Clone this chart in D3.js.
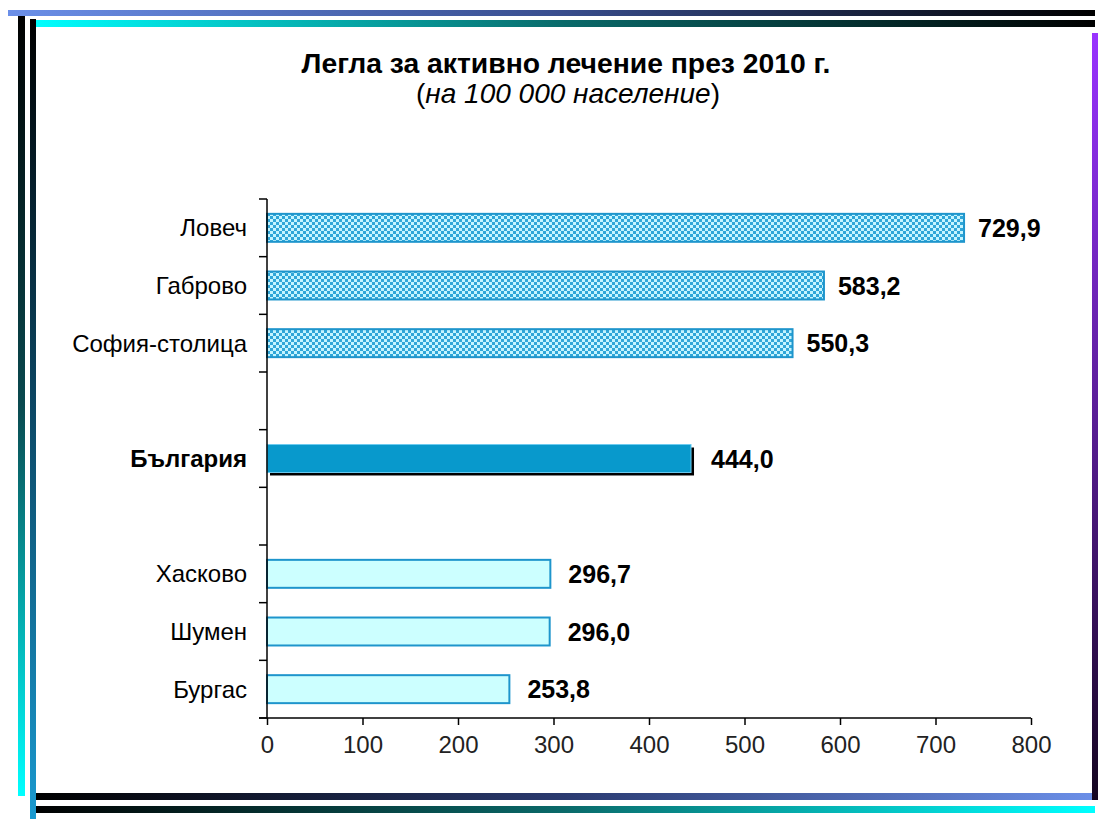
<!DOCTYPE html>
<html><head><meta charset="utf-8">
<script src="https://cdn.jsdelivr.net/npm/d3@7"></script>
<style>html,body{margin:0;padding:0;background:#fff;}svg{display:block;}</style>
</head><body>
<script>
const categories = ["Ловеч","Габрово","София-столица","gap1","България","gap2","Хасково","Шумен","Бургас"];
const labels = ["Ловеч","Габрово","София-столица","","България","","Хасково","Шумен","Бургас"];
const values = [729.9,583.2,550.3,null,444.0,null,296.7,296.0,253.8];
const groups = ["high","high","high",null,"country",null,"low","low","low"];
const xTicks = [0,100,200,300,400,500,600,700,800];
const title = "Легла за активно лечение през 2010 г.";
const subtitle = ["(","на 100 000 население",")"];

const W=1100,H=819;
const FONT="Liberation Sans, Arial, sans-serif";
const svg=d3.select("body").append("svg").attr("width",W).attr("height",H);
const defs=svg.append("defs");
function grad(id,x2,y2,stops){
  const g=defs.append("linearGradient").attr("id",id).attr("x1",0).attr("y1",0).attr("x2",x2).attr("y2",y2);
  stops.forEach(s=>g.append("stop").attr("offset",s[0]).attr("stop-color",s[1]));
}
grad("gTop1",1,0,[[0,"#6b8fe8"],[0.5,"#3a4f90"],[1,"#000000"]]);
grad("gTop2",1,0,[[0,"#00ffff"],[0.5,"#0a6a6a"],[1,"#000000"]]);
grad("gLeft1",0,1,[[0,"#000000"],[0.5,"#0a4a50"],[1,"#00ffff"]]);
grad("gLeft2",0,1,[[0,"#000000"],[0.5,"#0c4a68"],[1,"#1a9ad0"]]);
grad("gBot1",1,0,[[0,"#000000"],[0.5,"#2a3a70"],[1,"#6b8fe8"]]);
grad("gBot2",1,0,[[0,"#000000"],[0.5,"#0a6a6a"],[1,"#00ffff"]]);
grad("gRight",0,1,[[0,"#9933ff"],[0.5,"#5a1e96"],[1,"#150520"]]);

const pat=defs.append("pattern").attr("id","chk").attr("width",6).attr("height",6).attr("patternUnits","userSpaceOnUse");
pat.append("rect").attr("width",6).attr("height",6).attr("fill","#c4f4ff");
pat.append("rect").attr("width",3).attr("height",3).attr("fill","#2fa6d8");
pat.append("rect").attr("x",3).attr("y",3).attr("width",3).attr("height",3).attr("fill","#2fa6d8");

// frame
const frame=[
  [8,10,1087,6,"gTop1"],
  [33,20,1062,7,"gTop2"],
  [18,16,7,780,"gLeft1"],
  [30,19,6,800,"gLeft2"],
  [36,793,1059,7,"gBot1"],
  [36,806,1059,7,"gBot2"],
  [1092,33,6,767,"gRight"]
];
svg.selectAll("rect.frame").data(frame).join("rect").attr("class","frame")
  .attr("x",d=>d[0]).attr("y",d=>d[1]).attr("width",d=>d[2]).attr("height",d=>d[3]).attr("fill",d=>`url(#${d[4]})`);

// title
svg.append("text").attr("x",566).attr("y",73).attr("text-anchor","middle")
  .attr("font-family",FONT).attr("font-weight","bold").attr("font-size",28.3)
  .attr("fill","#000").text(title);
const st=svg.append("text").attr("x",568).attr("y",103).attr("text-anchor","middle")
  .attr("font-family",FONT).attr("font-size",28).attr("fill","#000");
st.append("tspan").text(subtitle[0]);
st.append("tspan").attr("font-style","italic").text(subtitle[1]);
st.append("tspan").text(subtitle[2]);

const x=d3.scaleLinear().domain([0,800]).range([267,1031]);
const y=d3.scaleBand().domain(categories).range([199,718]).paddingInner(0.515).paddingOuter(0.2575);

const g=svg.append("g");
const data=categories.map((c,i)=>({c,label:labels[i],v:values[i],grp:groups[i]})).filter(d=>d.v!=null);

// shadow for country bar
g.selectAll("rect.shadow").data(data.filter(d=>d.grp==="country")).join("rect").attr("class","shadow")
  .attr("x",x(0)+3).attr("y",d=>y(d.c)+3).attr("width",d=>x(d.v)-x(0)).attr("height",y.bandwidth()).attr("fill","#000");

g.selectAll("rect.bar").data(data).join("rect").attr("class","bar")
  .attr("x",x(0)).attr("y",d=>y(d.c)).attr("width",d=>x(d.v)-x(0)).attr("height",y.bandwidth())
  .attr("fill",d=>d.grp==="high"?"url(#chk)":d.grp==="country"?"#0899cc":"#ccffff")
  .attr("stroke",d=>d.grp==="country"?"#6ccbf0":"#1e95cc")
  .attr("stroke-width",d=>d.grp==="country"?1:2);

// value labels
g.selectAll("text.val").data(data).join("text").attr("class","val")
  .attr("x",d=>x(d.v)+(d.grp==="country"?20:d.grp==="low"?18:14)).attr("y",d=>y(d.c)+y.bandwidth()/2).attr("dy","0.36em")
  .attr("font-family",FONT).attr("font-weight","bold").attr("font-size",25)
  .attr("fill","#000").text(d=>d3.format(".1f")(d.v).replace(".",","));

// y axis
const step=y.step();
const bounds=d3.range(categories.length+1).map(i=>y.range()[0]+i*step);
g.append("line").attr("x1",x(0)).attr("x2",x(0)).attr("y1",y.range()[0]).attr("y2",y.range()[1]).attr("stroke","#000").attr("stroke-width",1.5);
g.selectAll("line.yt").data(bounds).join("line").attr("class","yt")
  .attr("x1",x(0)-8).attr("x2",x(0)).attr("y1",d=>d).attr("y2",d=>d).attr("stroke","#000").attr("stroke-width",1.5);
g.selectAll("text.cat").data(categories.map((c,i)=>({c,label:labels[i],grp:groups[i]})).filter(d=>d.label)).join("text").attr("class","cat")
  .attr("x",247).attr("y",d=>y(d.c)+y.bandwidth()/2).attr("dy","0.36em").attr("text-anchor","end")
  .attr("font-family",FONT).attr("font-size",24)
  .attr("font-weight",d=>d.grp==="country"?"bold":"normal").attr("fill","#000").text(d=>d.label);

// x axis
const xa=svg.append("g").attr("transform",`translate(0,${y.range()[1]})`)
  .call(d3.axisBottom(x).tickValues(xTicks).tickSize(7).tickFormat(d3.format("d")));
xa.select(".domain").attr("stroke","#000").attr("stroke-width",1.5).attr("d",`M${x(0)-8},0H${x(800)}`);
xa.selectAll(".tick line").attr("stroke","#000").attr("stroke-width",1.5);
xa.selectAll(".tick text").attr("font-family",FONT).attr("font-size",24).attr("fill","#222").attr("dy","1.05em");
</script>
</body></html>
